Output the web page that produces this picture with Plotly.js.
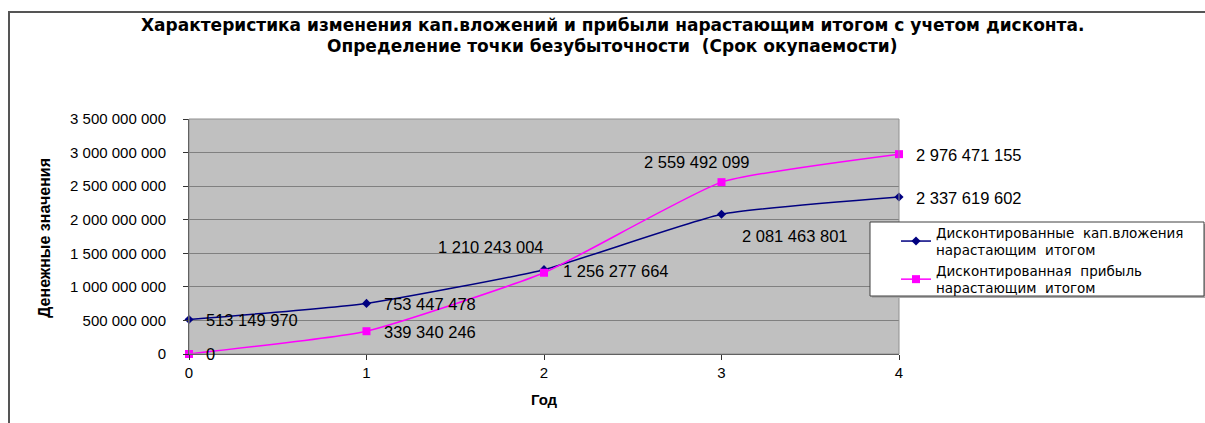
<!DOCTYPE html>
<html>
<head>
<meta charset="utf-8">
<script src="https://cdn.plot.ly/plotly-3.0.1.min.js"></script>
<style>
  html, body { margin: 0; padding: 0; background: #fff; }
  #wrap { position: relative; width: 1205px; height: 423px; overflow: hidden; }
  #chart { width: 1205px; height: 423px; }
  #frame {
    position: absolute; left: 8px; top: 11px; width: 1200px; height: 420px;
    border-top: 2px solid #555; border-left: 2px solid #555;
    pointer-events: none;
  }
</style>
</head>
<body>
<div id="wrap">
  <div id="chart"></div>
  <div id="frame"></div>
</div>
<script>
// Years of the project
const years = [0, 1, 2, 3, 4];

// Cumulative discounted capital investment
const investment = [513149970, 753447478, 1256277664, 2081463801, 2337619602];

// Cumulative discounted profit
const profit = [0, 339340246, 1210243004, 2559492099, 2976471155];

const titleLines = [
  'Характеристика изменения кап.вложений и прибыли нарастающим итогом с учетом дисконта.',
  'Определение точки безубыточности  (Срок окупаемости)'
];

const investmentName = 'Дисконтированные\u00a0 кап.вложения<br>нарастающим\u00a0 итогом';
const profitName = 'Дисконтированная\u00a0 прибыль<br>нарастающим\u00a0 итогом';

// Label placement for each point: [xanchor, xshift, yshift]
const investmentLabelPos = [['left', 15, 0], ['left', 15, -1], ['left', 17, -1], ['left', 18, -22], ['left', 15, -1]];
const profitLabelPos = [['left', 15, 0], ['left', 15, -1], ['center', -53, 26], ['center', -25, 20], ['left', 15, -1]];

function fmt(n) {
  return String(n).replace(/\B(?=(\d{3})+(?!\d))/g, ' ');
}

const FONT = 'Liberation Sans, Arial, sans-serif';

const traces = [
  {
    x: years, y: investment, name: investmentName,
    type: 'scatter', mode: 'lines+markers',
    line: { color: '#000080', width: 1.5, shape: 'spline', smoothing: 0.45 },
    marker: { symbol: 'diamond', size: 7, color: '#000080' },
    cliponaxis: false
  },
  {
    x: years, y: profit, name: profitName,
    type: 'scatter', mode: 'lines+markers',
    line: { color: '#FF00FF', width: 1.5, shape: 'spline', smoothing: 0.45 },
    marker: { symbol: 'square', size: 8, color: '#FF00FF' },
    cliponaxis: false
  }
];

const plotW = 1205 - 189 - 306;
const plotH = 423 - 119 - 69;
const px = v => (v - 189) / plotW;
const py = v => (354 - v) / plotH;

const annotations = [];
function addLabels(xs, ys, pos) {
  xs.forEach((x, i) => {
    annotations.push({
      x: x, y: ys[i], xref: 'x', yref: 'y',
      text: fmt(ys[i]), showarrow: false,
      xanchor: pos[i][0], yanchor: 'middle',
      xshift: pos[i][1], yshift: pos[i][2],
      font: { family: FONT, size: 16.5, color: '#000' }
    });
  });
}
addLabels(years, investment, investmentLabelPos);
addLabels(years, profit, profitLabelPos);

// Chart title, two centred lines
[25, 46].forEach((yc, i) => {
  annotations.push({
    xref: 'paper', yref: 'paper', x: px(612.5), y: py(yc),
    text: '<b>' + titleLines[i] + '</b>', showarrow: false,
    xanchor: 'center', yanchor: 'middle',
    font: { family: 'DejaVu Sans, sans-serif', size: 17, color: '#000' }
  });
});

// Y axis title
annotations.push({
  xref: 'paper', yref: 'paper', x: px(44), y: py(238),
  text: '<b>Денежные значения</b>', showarrow: false, textangle: -90,
  xanchor: 'center', yanchor: 'middle',
  font: { family: FONT, size: 16, color: '#000' }
});

const layout = {
  width: 1205, height: 423,
  margin: { l: 189, r: 306, t: 119, b: 69, pad: 0 },
  paper_bgcolor: '#ffffff',
  plot_bgcolor: '#C0C0C0',
  separators: ', ',
  showlegend: true,
  font: { family: FONT, color: '#000' },
  xaxis: {
    range: [0, 4], tickvals: years, ticktext: years.map(String),
    showgrid: false, zeroline: false,
    showline: true, linecolor: '#333', linewidth: 1,
    ticks: 'outside', ticklen: 5, tickcolor: '#333',
    tickfont: { family: FONT, size: 15, color: '#000' },
    title: { text: '<b>Год</b>', font: { family: FONT, size: 15, color: '#000' }, standoff: 14 },
    fixedrange: true
  },
  yaxis: {
    range: [0, 3500000000], dtick: 500000000, tick0: 0, tickformat: ',d',
    showgrid: true, gridcolor: '#808080', gridwidth: 1, zeroline: false,
    showline: true, linecolor: '#333', linewidth: 1,
    ticks: 'outside', ticklen: 5, tickcolor: '#333',
    ticklabelstandoff: 14,
    tickfont: { family: FONT, size: 15, color: '#000' },
    fixedrange: true
  },
  legend: {
    x: px(896), y: py(217), xanchor: 'left', yanchor: 'top',
    bgcolor: 'rgba(0,0,0,0)', borderwidth: 0,
    font: { family: 'DejaVu Sans, sans-serif', size: 13.5, color: '#000' },
    tracegroupgap: 0
  },
  shapes: [
    // plot area edge
    { type: 'rect', xref: 'paper', yref: 'paper', x0: 0, x1: 1, y0: 0, y1: 1,
      line: { color: '#909090', width: 1 }, layer: 'above' },
    // legend box shadow and frame
    { type: 'rect', xref: 'paper', yref: 'paper', x0: px(872), x1: px(1206), y0: py(298), y1: py(224),
      line: { width: 0 }, fillcolor: '#a8a8a8', layer: 'above' },
    { type: 'rect', xref: 'paper', yref: 'paper', x0: px(870), x1: px(1204), y0: py(296), y1: py(222),
      line: { color: '#404040', width: 1 }, fillcolor: '#ffffff', layer: 'above' }
  ],
  annotations: annotations
};

Plotly.newPlot('chart', traces, layout, { staticPlot: true, displayModeBar: false });
</script>
</body>
</html>
